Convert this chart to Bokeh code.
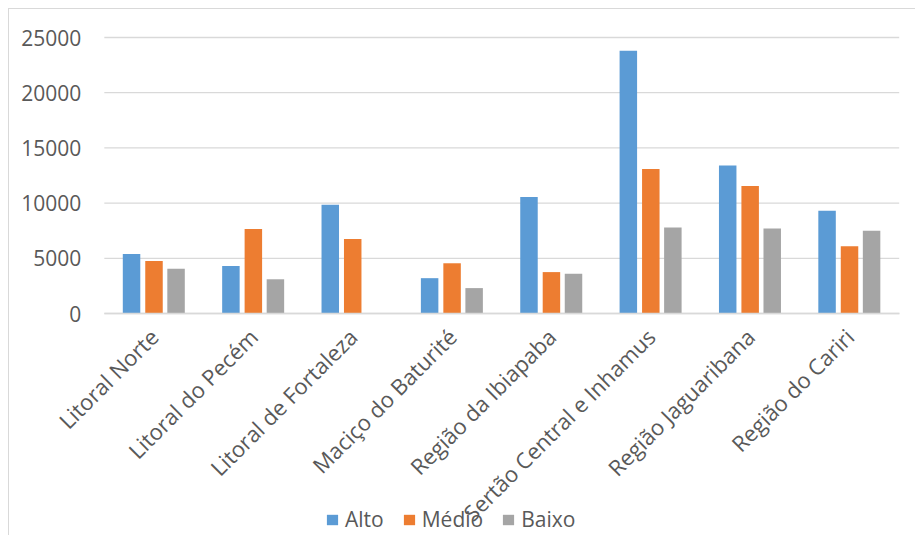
import math
from bokeh.plotting import figure
from bokeh.models import ColumnDataSource, Range1d, FixedTicker, Legend, LegendItem
from bokeh.transform import dodge
from bokeh.embed import file_html
from bokeh.resources import INLINE

categories = ["Litoral Norte", "Litoral do Pecém", "Litoral de Fortaleza", "Maciço do Baturité",
              "Região da Ibiapaba", "Sertão Central e Inhamus", "Região Jaguaribana", "Região do Cariri"]
alto = [5400, 4300, 9850, 3200, 10550, 23800, 13400, 9300]
medio = [4750, 7650, 6750, 4550, 3750, 13100, 11550, 6100]
baixo = [4050, 3100, 0, 2300, 3600, 7800, 7700, 7500]
series_names = ["Alto", "Médio", "Baixo"]
y_ticks = [0, 5000, 10000, 15000, 20000, 25000]

colors = ["#5B9BD5", "#ED7D31", "#A5A5A5"]
FONT = "Open Sans"
TXT = "#595959"
GRID = "#D9D9D9"

# layout constants (pixels inside the canvas)
CANVAS_W, CANVAS_H = 907, 527
TOP_PX = 28            # where the 25000 line sits
PLOT_PX = 276          # height of the 0..25000 band
PX_PER_CAT = 99.36
FIRST_CENTER_PX = 144.5
Y_MAX = 25000
y_per_px = Y_MAX / PLOT_PX
y_end = Y_MAX + TOP_PX * y_per_px
y_start = Y_MAX - (CANVAS_H - TOP_PX) * y_per_px
x_start = -FIRST_CENTER_PX / PX_PER_CAT
x_end = (CANVAS_W - FIRST_CENTER_PX) / PX_PER_CAT

idx = list(range(len(categories)))
src = ColumnDataSource(dict(x=idx, alto=alto, medio=medio, baixo=baixo))

p = figure(x_range=Range1d(x_start, x_end), y_range=Range1d(y_start, y_end),
           width=CANVAS_W, height=CANVAS_H, frame_width=CANVAS_W, frame_height=CANVAS_H,
           min_border_left=0, min_border_top=0, min_border_right=0, min_border_bottom=0,
           output_backend="svg", toolbar_location=None,
           margin=(8, 0, 0, 8),
           styles={"border-top": "1px solid #D9D9D9", "border-left": "1px solid #D9D9D9"})
p.outline_line_color = None
p.background_fill_color = "white"
p.border_fill_color = "white"
p.xgrid.visible = False
p.ygrid.visible = False

# value gridlines across the category band
x_lo, x_hi = idx[0] - 0.5, idx[-1] + 0.5
p.segment(x0=[x_lo] * len(y_ticks), x1=[x_hi] * len(y_ticks), y0=y_ticks, y1=y_ticks,
          line_color=GRID, line_width=1.3)

renderers = []
for col, off, c in zip(["alto", "medio", "baixo"], [-0.226, 0.0, 0.222], colors):
    r = p.vbar(x=dodge("x", off), top=col, width=0.176, source=src,
               fill_color=c, line_color=None)
    renderers.append(r)

p.yaxis.fixed_location = x_lo
p.yaxis.ticker = FixedTicker(ticks=y_ticks)
p.yaxis.axis_line_color = None
p.yaxis.major_tick_line_color = None
p.yaxis.minor_tick_line_color = None
p.yaxis.major_tick_out = 0
p.yaxis.major_label_standoff = 23
p.yaxis.major_label_text_font = FONT
p.yaxis.major_label_text_font_size = "21px"
p.yaxis.major_label_text_color = TXT

p.xaxis.fixed_location = 0
p.xaxis.bounds = (x_lo, x_hi)
p.xaxis.ticker = FixedTicker(ticks=idx)
p.xaxis.major_label_overrides = {i: c for i, c in zip(idx, categories)}
p.xaxis.axis_line_color = GRID
p.xaxis.axis_line_width = 1.3
p.xaxis.major_tick_line_color = None
p.xaxis.minor_tick_line_color = None
p.xaxis.major_tick_out = 0
p.xaxis.major_label_orientation = math.pi / 4
p.xaxis.major_label_standoff = 19
p.xaxis.major_label_text_font = FONT
p.xaxis.major_label_text_font_size = "22px"
p.xaxis.major_label_text_color = TXT

legend = Legend(items=[LegendItem(label=n, renderers=[r]) for n, r in zip(series_names, renderers)],
                orientation="horizontal", location=(316, 3),
                padding=0, margin=0, spacing=18, label_standoff=6,
                glyph_width=14, glyph_height=13,
                label_text_font=FONT, label_text_font_size="21px", label_text_color=TXT,
                border_line_color=None, background_fill_alpha=0)
p.add_layout(legend)

open("out.html", "w").write(file_html(p, INLINE))
